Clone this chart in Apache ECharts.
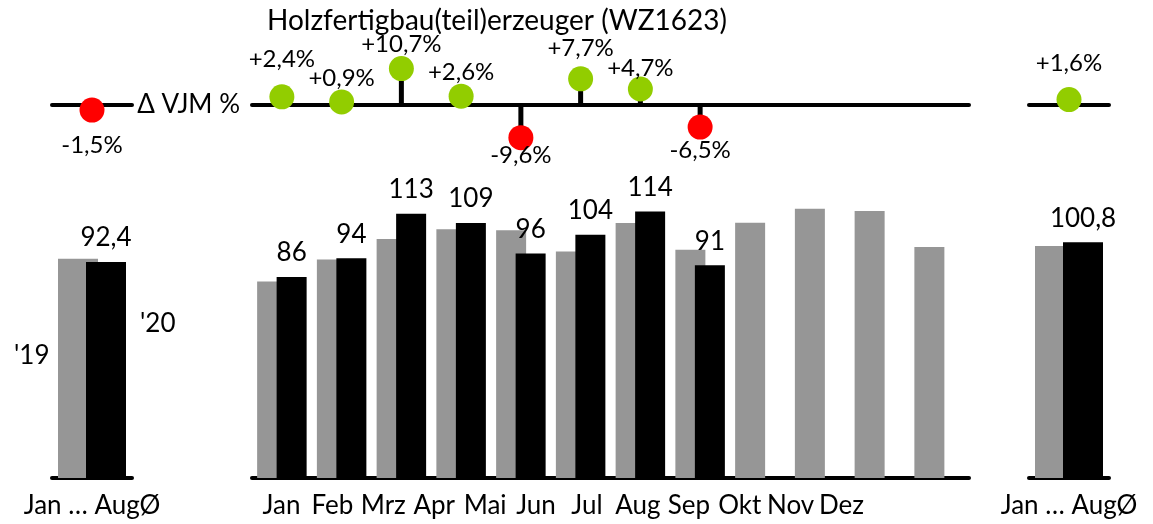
<!DOCTYPE html>
<html>
<head>
<meta charset="utf-8">
<script src="https://cdn.jsdelivr.net/npm/echarts@6/dist/echarts.min.js"></script>
<style>
  html, body { margin: 0; padding: 0; background: #fff; }
  #chart { width: 1153px; height: 524px; }
</style>
</head>
<body>
<div id="chart"></div>
<script>
// Werte
let monthLabels = ['Jan', 'Feb', 'Mrz', 'Apr', 'Mai', 'Jun', 'Jul', 'Aug', 'Sep', 'Okt', 'Nov', 'Dez'];
let monthSlots = ['1', '2', '3', '4', '5', '6', '7', '8', '9', '10', '11', '12'];
let prevYear = [84.0, 93.4, 102.2, 106.4, 105.9, 96.9, 109.0, 97.6, 109.1, 115.1, 114.2, 98.8];
let curYear = [86, 94, 113, 109, 96, 104, 114, 91];
let deltaMonths = [2.4, 0.9, 10.7, 2.6, -9.6, 7.7, 4.7, -6.5];

let periodLabel = ['Jan … AugØ'];
let leftPrev = [93.8];
let leftCur = [92.4];
let leftDelta = [-1.5];
let rightPrev = [99.2];
let rightCur = [100.8];
let rightDelta = [1.6];

let yearPrev = "'19";
let yearCur = "'20";
let titleText = 'Holzfertigbau(teil)erzeuger (WZ1623)';

const GREY = '#969696';
const GREEN = '#92cd00';
const RED = '#ff0000';
const FONT = 'Lato';

// Layout: zusätzlicher Abstand der %-Beschriftung (px, weg von der Linie)
const NUDGE_MONTHS = [12, -2, -1, -2, -8, 5, -5, -2];
const NUDGE_LEFT = [10];
const NUDGE_RIGHT = [11];

let fmtDec = function (v) {
    return v.toFixed(1).replace('.', ',');
};
let fmtPct = function (v) {
    return (v > 0 ? '+' : '') + v.toFixed(1).replace('.', ',') + '%';
};

let dotData = function (arr, nudge) {
    return arr.map(function (v, i) {
        let n = nudge[i] || 0;
        return {
            value: v,
            itemStyle: {color: v < 0 ? RED : GREEN, opacity: 1},
            label: {position: v < 0 ? 'bottom' : 'top', offset: [0, v < 0 ? n : -n]}
        };
    });
};

let chart = echarts.init(document.getElementById('chart'));

let panels = [
    {left: 52, width: 80},
    {left: 252, width: 717},
    {left: 1029, width: 80}
];

let grids = [];
panels.forEach(function (p) {
    grids.push({left: p.left, width: p.width, top: 174, bottom: 46});
});
panels.forEach(function (p) {
    grids.push({left: p.left, width: p.width, top: 54, height: 102});
});
// Monatsbeschriftung
grids.push({left: 256, width: 611, top: 474, bottom: 46});

let bottomAxisLine = {show: true, lineStyle: {color: '#000', width: 4}};
let zeroLine = {onZero: true, lineStyle: {color: '#000', width: 4}};
let labelStyle = {color: '#000', fontFamily: FONT, fontSize: 26};

let xAxes = [
    {gridIndex: 0, type: 'category', data: periodLabel, axisLine: bottomAxisLine, axisTick: {show: false},
        axisLabel: Object.assign({margin: 15}, labelStyle)},
    {gridIndex: 1, type: 'category', data: monthSlots, axisLine: bottomAxisLine, axisTick: {show: false},
        axisLabel: {show: false}},
    {gridIndex: 2, type: 'category', data: periodLabel, axisLine: bottomAxisLine, axisTick: {show: false},
        axisLabel: Object.assign({margin: 15}, labelStyle)},
    {gridIndex: 3, type: 'category', data: periodLabel, axisLine: zeroLine,
        axisTick: {show: false}, axisLabel: {show: false}},
    {gridIndex: 4, type: 'category', data: monthSlots, axisLine: zeroLine,
        axisTick: {show: false}, axisLabel: {show: false},
        name: 'Δ VJM %', nameLocation: 'start', nameGap: 12,
        nameTextStyle: {color: '#000', fontFamily: FONT, fontSize: 26}},
    {gridIndex: 5, type: 'category', data: periodLabel, axisLine: zeroLine,
        axisTick: {show: false}, axisLabel: {show: false}},
    {gridIndex: 6, type: 'category', data: monthLabels, axisLine: {show: false}, axisTick: {show: false},
        axisLabel: Object.assign({margin: 15, interval: 0}, labelStyle)}
];

let yAxes = [];
for (let i = 0; i < 3; i++) {
    yAxes.push({gridIndex: i, type: 'value', min: 0, max: 130, show: false});
}
for (let i = 3; i < 6; i++) {
    yAxes.push({gridIndex: i, type: 'value', min: -15, max: 15, show: false});
}
yAxes.push({gridIndex: 6, type: 'value', show: false});

let valueLabel = function (fmt) {
    return {show: true, position: 'top', distance: 11, color: '#000', fontFamily: FONT, fontSize: 26, formatter: fmt};
};

let series = [
    // linkes Panel
    {type: 'bar', xAxisIndex: 0, yAxisIndex: 0, data: leftPrev, barWidth: 40, barGap: '-30%',
        itemStyle: {color: GREY}},
    {type: 'bar', xAxisIndex: 0, yAxisIndex: 0, data: leftCur, barWidth: 40, barGap: '-30%',
        itemStyle: {color: '#000'}, label: valueLabel(function (p) { return fmtDec(p.value); })},
    // Monate
    {type: 'bar', xAxisIndex: 1, yAxisIndex: 1, data: prevYear, barWidth: 30, barGap: '-35%',
        itemStyle: {color: GREY}},
    {type: 'bar', xAxisIndex: 1, yAxisIndex: 1, data: curYear, barWidth: 30, barGap: '-35%',
        itemStyle: {color: '#000'}, label: valueLabel(function (p) { return String(p.value); })},
    // rechtes Panel
    {type: 'bar', xAxisIndex: 2, yAxisIndex: 2, data: rightPrev, barWidth: 40, barGap: '-30%',
        itemStyle: {color: GREY}},
    {type: 'bar', xAxisIndex: 2, yAxisIndex: 2, data: rightCur, barWidth: 40, barGap: '-30%',
        itemStyle: {color: '#000'}, label: valueLabel(function (p) { return fmtDec(p.value); })}
];

// Abweichungen (Nadeln)
[[3, leftDelta, NUDGE_LEFT], [4, deltaMonths, NUDGE_MONTHS], [5, rightDelta, NUDGE_RIGHT]].forEach(function (d) {
    series.push({type: 'bar', xAxisIndex: d[0], yAxisIndex: d[0], data: d[1], barWidth: 5,
        itemStyle: {color: '#000'}, z: 3});
    series.push({type: 'scatter', xAxisIndex: d[0], yAxisIndex: d[0], data: dotData(d[1], d[2]), symbolSize: 25, z: 5,
        itemStyle: {opacity: 1},
        label: {show: true, distance: 1, color: '#000', fontFamily: FONT, fontSize: 24,
            formatter: function (p) { return fmtPct(p.value); }}});
});

let option = {
    animation: false,
    backgroundColor: '#fff',
    title: {text: titleText, left: 492, top: 2, textAlign: 'center',
        textStyle: {color: '#000', fontFamily: FONT, fontSize: 28, fontWeight: 'normal'}},
    grid: grids,
    xAxis: xAxes,
    yAxis: yAxes,
    series: series,
    graphic: [
        {type: 'text', left: 14, top: 343, style: {text: yearPrev, fill: '#000', font: '26px ' + FONT}},
        {type: 'text', left: 140, top: 311, style: {text: yearCur, fill: '#000', font: '26px ' + FONT}}
    ]
};

chart.setOption(option);
</script>
</body>
</html>
